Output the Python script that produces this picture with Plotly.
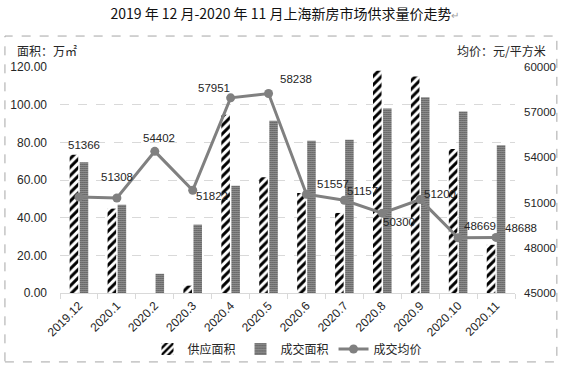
import plotly.graph_objects as go

categories = ["2019.12", "2020.1", "2020.2", "2020.3", "2020.4", "2020.5",
              "2020.6", "2020.7", "2020.8", "2020.9", "2020.10", "2020.11"]
supply_area = [73.4, 44.8, 0.0, 3.9, 94.7, 61.4, 53.1, 42.5, 118.0, 114.9, 76.5, 25.6]
deal_area = [69.4, 46.9, 10.2, 36.3, 57.0, 91.5, 80.9, 81.4, 97.9, 104.0, 96.4, 78.4]
avg_price = [51366, 51308, 54402, 51822, 57951, 58238, 51557, 51157, 50300, 51200, 48669, 48688]
left_ticks = [0, 20, 40, 60, 80, 100, 120]
right_ticks = [45000, 48000, 51000, 54000, 57000, 60000]

# label offsets in pixels (dx right, dy up) relative to each price point
label_dx = [5, 0, 4, 19, -17, 27, 27, 18, 17, 20, 22, 25]
label_dy = [52, 21, 13, -6, 10, 15, 10, 9, -9, 6, 12, 9]

FONT = "Noto Sans CJK SC"
NUMFONT = "Liberation Sans"
TXT = "#262626"

fig = go.Figure()
fig.add_trace(go.Bar(
    x=categories, y=supply_area, name="供应面积",
    marker=dict(color="white", line=dict(width=0),
                pattern=dict(shape="/", fgcolor="black", bgcolor="white", size=6, solidity=0.5)),
))
fig.add_trace(go.Bar(
    x=categories, y=deal_area, name="成交面积",
    marker=dict(color="white", line=dict(width=0),
                pattern=dict(shape=".", fgcolor="black", bgcolor="white", size=2, solidity=0.6)),
))
fig.add_trace(go.Scatter(
    x=categories, y=avg_price, name="成交均价", yaxis="y2",
    mode="lines+markers",
    line=dict(color="#808080", width=3),
    marker=dict(color="#808080", size=9),
))

annotations = []
for i, (p, dx, dy) in enumerate(zip(avg_price, label_dx, label_dy)):
    annotations.append(dict(x=i, y=p, yref="y2", xref="x", text=str(p), showarrow=False,
                            xshift=dx, yshift=dy, font=dict(size=11.5, color=TXT, family=NUMFONT)))
annotations.append(dict(x=-0.099, y=1.075, xref="paper", yref="paper", text="面积：万㎡",
                        showarrow=False, xanchor="left", yanchor="middle",
                        font=dict(size=12, color=TXT, family=FONT)))
annotations.append(dict(x=1.0725, y=1.075, xref="paper", yref="paper", text="均价：元/平方米",
                        showarrow=False, xanchor="right", yanchor="middle",
                        font=dict(size=12, color=TXT, family=FONT)))

fig.update_layout(
    template="none",
    width=562, height=368,
    margin=dict(l=60, r=47, t=67, b=75, autoexpand=False),
    paper_bgcolor="white", plot_bgcolor="white",
    font=dict(family=FONT, size=11, color=TXT),
    title=dict(text="2019 年 12 月-2020 年 11 月上海新房市场供求量价走势<span style='color:#a0a0a0;font-size:10px'>↵</span>",
               x=0.507, xanchor="center", y=1 - 14 / 368, yanchor="middle", yref="container",
               font=dict(size=14, color="#111111", family=FONT)),
    barmode="group", bargap=0.47, bargroupgap=0.15,
    xaxis=dict(type="category", range=[-0.5, len(categories) - 0.5], tickangle=-45,
               showline=True, linecolor="#d9d9d9", linewidth=1,
               ticks="outside", tickson="boundaries", ticklen=5, tickcolor="#d9d9d9",
               showgrid=False, automargin=False, tickfont=dict(size=12, color=TXT, family=NUMFONT)),
    yaxis=dict(range=[0, 120], tickvals=left_ticks, tickformat=".2f", showgrid=True,
               gridcolor="#d9d9d9", griddash="dash", zeroline=False, automargin=False,
               ticklabelstandoff=12, tickfont=dict(size=12, color=TXT, family=NUMFONT)),
    yaxis2=dict(range=[45000, 60000], tickvals=right_ticks, tickformat="d", overlaying="y", side="right",
                showgrid=False, zeroline=False, automargin=False, ticklabelstandoff=8,
                tickfont=dict(size=11.5, color=TXT, family=NUMFONT)),
    legend=dict(orientation="h", x=0.5, xanchor="center", y=-0.248, yanchor="middle",
                font=dict(size=12, color=TXT), traceorder="normal", itemwidth=30,
                bgcolor="rgba(0,0,0,0)"),
    annotations=annotations,
    shapes=[dict(type="rect", xref="paper", yref="paper", x0=-0.121, x1=1.092, y0=-0.305, y1=1.137,
                 line=dict(color="#a6a6a6", width=1, dash="dash"), fillcolor="rgba(0,0,0,0)", layer="below")],
)

fig.write_html("out.html", config={"displayModeBar": False},
               post_script="document.body.style.margin='0';")
